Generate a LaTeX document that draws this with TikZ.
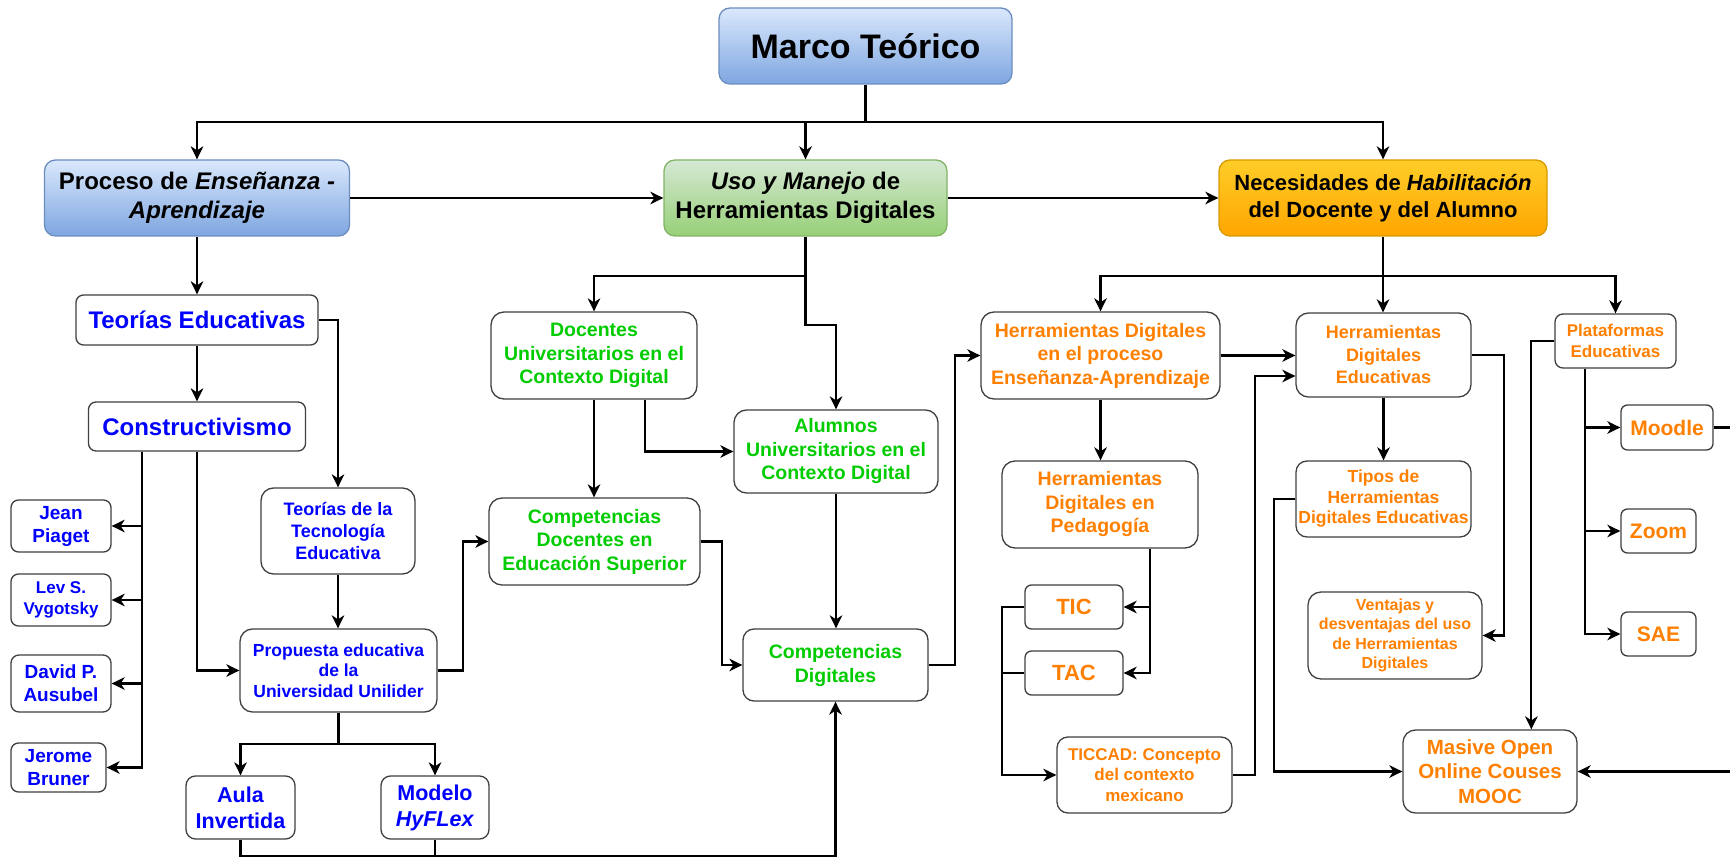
\documentclass[tikz,border=0pt]{standalone}
\usepackage{fontspec}
\setmainfont{Liberation Sans}
\usetikzlibrary{arrows.meta,calc}
\definecolor{txtblue}{HTML}{0000FF}
\definecolor{txtgreen}{HTML}{00CC00}
\definecolor{txtorange}{HTML}{FF8000}
\definecolor{boxline}{HTML}{404040}
\definecolor{bluetop}{HTML}{DAE8FC}
\definecolor{bluebot}{HTML}{7EA6E0}
\definecolor{blueline}{HTML}{6C8EBF}
\definecolor{greentop}{HTML}{D5E8D4}
\definecolor{greenbot}{HTML}{97D077}
\definecolor{greenline}{HTML}{82B366}
\definecolor{orangetop}{HTML}{FFCD28}
\definecolor{orangebot}{HTML}{FFA500}
\definecolor{orangeline}{HTML}{D79B00}

\tikzset{
  fs/.style 2 args={font=\fontsize{#1}{#2}\selectfont\bfseries},
  box/.style={draw=boxline, line width=1.3pt, fill=white, align=center, inner sep=1pt},
  rootbox/.style={line width=1.3pt, align=center, inner sep=1pt, text=black},
  bluebox/.style={rootbox, draw=blueline, top color=bluetop, bottom color=bluebot},
  greenbox/.style={rootbox, draw=greenline, top color=greentop, bottom color=greenbot},
  orangebox/.style={rootbox, draw=orangeline, top color=orangetop, bottom color=orangebot},
  tb/.style={text=txtblue},
  tg/.style={text=txtgreen},
  to/.style={text=txtorange},
  line/.style={draw=black, line width=2.2pt},
  arr/.style={line, -{Stealth[length=13pt,width=12.5pt,inset=4pt]}},
}

\begin{document}
\begin{tikzpicture}[x=1pt, y=-1pt]
\fill[white] (0,0) rectangle (1730,858);
\useasboundingbox (0,0) rectangle (1730,858);

% top level
\node[bluebox, minimum width=293pt, minimum height=76pt, rounded corners=11pt, fs={34}{40}] (marco) at (865.5,46) {Marco Teórico};
\node[bluebox, minimum width=305pt, minimum height=76pt, rounded corners=11pt, fs={24}{29}] (proceso) at (197,198) {Proceso de \textit{Enseñanza -}\\\textit{Aprendizaje}};
\node[greenbox, minimum width=283pt, minimum height=76pt, rounded corners=11pt, fs={24}{29}] (uso) at (805.5,198) {\textit{Uso y Manejo} de\\Herramientas Digitales};
\node[orangebox, minimum width=328pt, minimum height=76pt, rounded corners=11pt, fs={22}{27}] (nec) at (1383,198) {Necesidades de \textit{Habilitación}\\del Docente y del Alumno};

% left branch (blue)
\node[box, tb, minimum width=242pt, minimum height=50pt, rounded corners=7.5pt, fs={24}{29}] (teorias) at (197,320) {Teorías Educativas};
\node[box, tb, minimum width=217pt, minimum height=49pt, rounded corners=7.5pt, fs={24}{29}] (const) at (197,426.5) {Constructivismo};
\node[box, tb, minimum width=100pt, minimum height=52pt, rounded corners=7.5pt, fs={19}{23}] (jean) at (61,526) {Jean\\Piaget};
\node[box, tb, minimum width=100pt, minimum height=52pt, rounded corners=7.5pt, fs={17}{21}] (lev) at (61,600) {Lev S.\\Vygotsky};
\node[box, tb, minimum width=100pt, minimum height=57pt, rounded corners=8pt, fs={19}{23}] (david) at (61,683.5) {David P.\\Ausubel};
\node[box, tb, minimum width=95pt, minimum height=49pt, rounded corners=7.5pt, fs={19}{23}] (jerome) at (58.5,767.5) {Jerome\\Bruner};
\node[box, tb, minimum width=154pt, minimum height=86pt, rounded corners=12.5pt, fs={18}{22}] (tdlt) at (338,531) {Teorías de la\\Tecnología\\Educativa};
\node[box, tb, minimum width=197pt, minimum height=83pt, rounded corners=12.5pt, fs={17.5}{20.5}] (prop) at (338.5,670.5) {Propuesta educativa\\de la\\Universidad Unilider};
\node[box, tb, minimum width=109pt, minimum height=63pt, rounded corners=9.5pt, fs={21.5}{26}] (aula) at (240.5,807.5) {Aula\\Invertida};
\node[box, tb, minimum width=108pt, minimum height=63pt, rounded corners=9.5pt, fs={21.5}{26}] (modelo) at (435,807.5) {Modelo\\\textit{HyFLex}};

% middle branch (green)
\node[box, tg, minimum width=206pt, minimum height=87pt, rounded corners=13pt, fs={19.5}{23.5}] (docentes) at (594,355.5) {Docentes\\Universitarios en el\\Contexto Digital};
\node[box, tg, minimum width=204pt, minimum height=83pt, rounded corners=12.5pt, fs={19.5}{23.5}] (alumnos) at (836,451.5) {Alumnos\\Universitarios en el\\Contexto Digital};
\node[box, tg, minimum width=211pt, minimum height=87pt, rounded corners=13pt, fs={19.5}{23.5}] (compdoc) at (594.5,541.5) {Competencias\\Docentes en\\Educación Superior};
\node[box, tg, minimum width=185pt, minimum height=72pt, rounded corners=11pt, fs={19.5}{24}] (compdig) at (835.5,665) {Competencias\\Digitales};

% right branch (orange)
\node[box, to, minimum width=239pt, minimum height=87pt, rounded corners=13pt, fs={19.5}{23.5}] (hproc) at (1100.5,355.5) {Herramientas Digitales\\en el proceso\\Enseñanza-Aprendizaje};
\node[box, to, minimum width=196pt, minimum height=87pt, rounded corners=13pt, fs={19.5}{23.5}] (hped) at (1100,504.5) {Herramientas\\Digitales en\\Pedagogía};
\node[box, to, minimum width=98pt, minimum height=44pt, rounded corners=6.5pt, fs={22}{26}] (tic) at (1074,607) {TIC};
\node[box, to, minimum width=98pt, minimum height=44pt, rounded corners=6.5pt, fs={22}{26}] (tac) at (1074,673) {TAC};
\node[box, to, minimum width=175pt, minimum height=76pt, rounded corners=11pt, fs={17}{20.5}] (ticcad) at (1144.5,775) {TICCAD: Concepto\\del contexto\\mexicano};
\node[box, to, minimum width=175pt, minimum height=84pt, rounded corners=12.5pt, fs={18}{22.5}] (hde) at (1383.5,355) {Herramientas\\Digitales\\Educativas};
\node[box, to, minimum width=175pt, minimum height=76pt, rounded corners=11pt, fs={17.5}{20.5}] (tipos) at (1383.5,499) {Tipos de\\Herramientas\\Digitales Educativas};
\node[box, to, minimum width=174pt, minimum height=87pt, rounded corners=13pt, fs={16}{19.5}] (ventajas) at (1395,635.5) {Ventajas y\\desventajas del uso\\de Herramientas\\Digitales};
\node[box, to, minimum width=174pt, minimum height=83pt, rounded corners=12.5pt, fs={20.5}{24.5}] (mooc) at (1490,771.5) {Masive Open\\Online Couses\\MOOC};
\node[box, to, minimum width=121pt, minimum height=54pt, rounded corners=8pt, fs={17}{21}] (plat) at (1615.5,341) {Plataformas\\Educativas};
\node[box, to, minimum width=92pt, minimum height=45pt, rounded corners=6.5pt, fs={21}{25}] (moodle) at (1667,427.5) {Moodle};
\node[box, to, minimum width=75pt, minimum height=44pt, rounded corners=6.5pt, fs={21}{25}] (zoom) at (1658.5,531) {Zoom};
\node[box, to, minimum width=75pt, minimum height=44pt, rounded corners=6.5pt, fs={21}{25}] (sae) at (1658.5,634) {SAE};

% connectors from the root
\coordinate (bus) at (865.5,122);
\draw[line] (marco.south) -- (bus);
\draw[arr] (bus) -| (proceso.north);
\draw[arr] (bus) -| (uso.north);
\draw[arr] (bus) -| (nec.north);
\draw[arr] (proceso.east) -- (uso.west);
\draw[arr] (uso.east) -- (nec.west);

% left branch connectors
\draw[arr] (proceso.south) -- (proceso.south |- teorias.north);
\draw[arr] (teorias.south) -- (teorias.south |- const.north);
\draw[arr] (teorias.east) -| (tdlt.north);
\coordinate (cbar) at ($(const.south)+(-55,0)$);
\draw[arr] (cbar) |- (jean.east);
\draw[arr] (cbar) |- (lev.east);
\draw[arr] (cbar) |- (david.east);
\draw[arr] (cbar) |- (jerome.east);
\draw[arr] (const.south) |- (prop.west);
\draw[arr] (tdlt.south) -- (tdlt.south |- prop.north);
\draw[arr] (prop.east) -- ++(25,0) |- (compdoc.west);
\coordinate (pb) at ($(prop.south)+(0,31)$);
\draw[line] (prop.south) -- (pb);
\draw[arr] (pb) -| (aula.north);
\draw[arr] (pb) -| (modelo.north);
\coordinate (bot) at (835.5,856);
\draw[arr] (aula.south) |- (bot) -- (compdig.south);
\draw[line] (modelo.south) -- (modelo.south |- bot);

% middle branch connectors
\coordinate (ub) at ($(uso.south)+(0,39)$);
\draw[line] (uso.south) -- (ub);
\draw[arr] (ub) -| (docentes.north);
\draw[arr] (ub) -- ++(0,49) -| (alumnos.north);
\draw[arr] (docentes.south) -- (docentes.south |- compdoc.north);
\draw[arr] ($(docentes.south)+(51,0)$) |- (alumnos.west);
\draw[arr] (alumnos.south) -- (alumnos.south |- compdig.north);
\draw[arr] (compdoc.east) -- ++(21,0) |- (compdig.west);
\draw[arr] (compdig.east) -- ++(26,0) |- (hproc.west);

% right branch connectors
\coordinate (nb) at ($(nec.south)+(0,39)$);
\draw[arr] (nec.south) -- (nec.south |- hde.north);
\draw[arr] (nb) -| (hproc.north);
\draw[arr] (nb) -| (plat.north);
\draw[arr] (hproc.east) -- (hproc.east -| hde.west);
\draw[arr] (hproc.south) -- (hproc.south |- hped.north);
\coordinate (pd) at ($(hped.south)+(50,0)$);
\draw[arr] (pd) |- (tic.east);
\draw[arr] (pd) |- (tac.east);
\draw[arr] (tic.west) -- ++(-22,0) |- (ticcad.west);
\draw[line] (tac.west) -- ++(-22,0);
\draw[arr] (ticcad.east) -- ++(22,0) |- ($(hde.west)+(0,21)$);
\draw[arr] (hde.south) -- (hde.south |- tipos.north);
\draw[arr] (hde.east) -- ++(32,0) |- (ventajas.east);
\draw[arr] (tipos.west) -- ++(-21,0) |- (mooc.west);
\coordinate (pw) at ($(plat.west)+(-23,0)$);
\draw[arr] (plat.west) -- (pw) -- (pw |- mooc.north);
\coordinate (ps) at ($(plat.south)+(-30.5,0)$);
\draw[arr] (ps) |- (moodle.west);
\draw[arr] (ps) |- (zoom.west);
\draw[arr] (ps) |- (sae.west);
\coordinate (rightedge) at (1731,0);
\draw[line] (moodle.east) -- (moodle.east -| rightedge);
\draw[arr] (mooc.east -| rightedge) -- (mooc.east);
\end{tikzpicture}
\end{document}
